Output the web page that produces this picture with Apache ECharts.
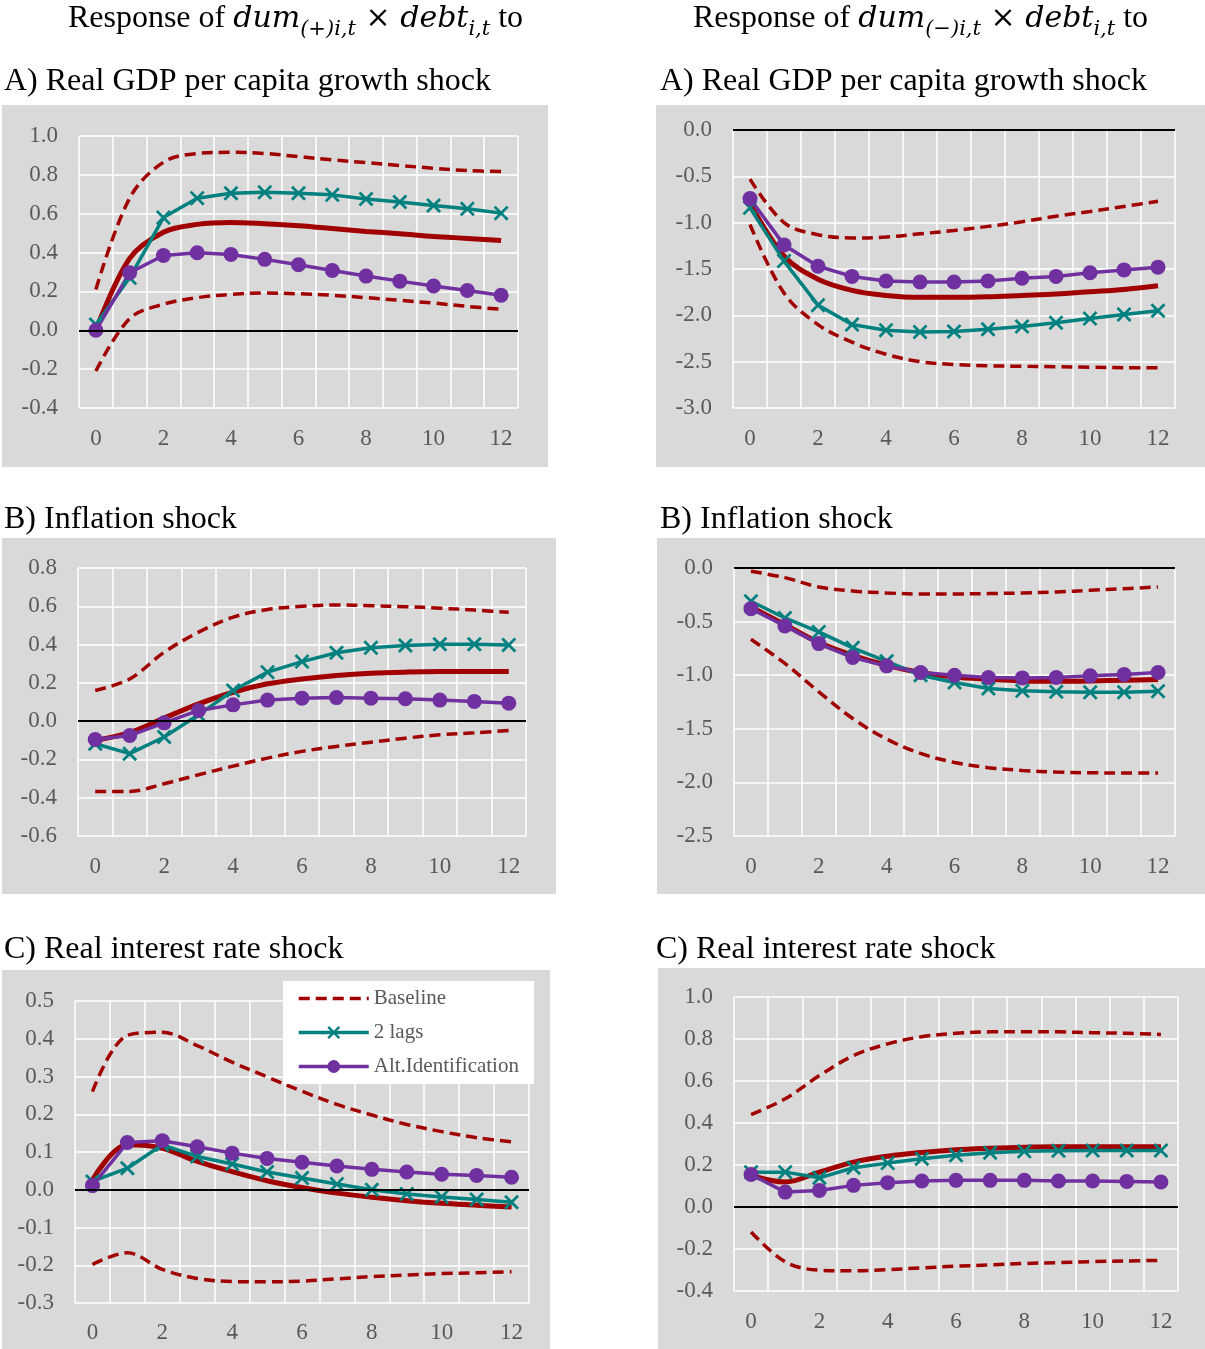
<!DOCTYPE html>
<html>
<head>
<meta charset="utf-8">
<script src="https://cdn.jsdelivr.net/npm/echarts@6/dist/echarts.min.js"></script>
<style>html,body{margin:0;padding:0;background:#fff;}#chart{width:1205px;height:1349px;}</style>
</head>
<body>
<div id="chart"></div>
<script>
// ---------- DATA ----------
const horizons = ['0','1','2','3','4','5','6','7','8','9','10','11','12'];
const seriesNames = ['Baseline', '2 lags', 'Alt.Identification'];

// Left column: dum(+) x debt
const gdpPosUpper = [0.21,0.68,0.865,0.91,0.916,0.91,0.894,0.877,0.863,0.848,0.834,0.822,0.817];
const gdpPosLower = [-0.21,0.06,0.134,0.168,0.185,0.192,0.188,0.18,0.168,0.154,0.14,0.123,0.108];
const gdpPosBase  = [0.0,0.37,0.505,0.545,0.555,0.548,0.538,0.524,0.509,0.497,0.483,0.473,0.462];
const gdpPosLags  = [0.03,0.27,0.58,0.68,0.705,0.71,0.705,0.697,0.676,0.66,0.642,0.625,0.603];
const gdpPosAlt   = [0.0,0.296,0.385,0.399,0.39,0.365,0.337,0.308,0.279,0.253,0.228,0.205,0.18];

const infPosUpper = [0.16,0.22,0.36,0.465,0.543,0.583,0.6,0.607,0.603,0.598,0.59,0.58,0.569];
const infPosLower = [-0.367,-0.367,-0.327,-0.28,-0.235,-0.193,-0.158,-0.132,-0.11,-0.089,-0.071,-0.061,-0.049];
const infPosBase  = [-0.1,-0.06,0.016,0.09,0.151,0.195,0.22,0.238,0.25,0.256,0.259,0.259,0.259];
const infPosLags  = [-0.118,-0.17,-0.083,0.033,0.16,0.256,0.311,0.357,0.383,0.395,0.402,0.402,0.398];
const infPosAlt   = [-0.096,-0.075,-0.009,0.056,0.085,0.11,0.12,0.123,0.12,0.117,0.11,0.103,0.094];

const rirPosUpper = [0.26,0.409,0.417,0.382,0.338,0.299,0.261,0.226,0.198,0.173,0.154,0.138,0.127];
const rirPosLower = [-0.198,-0.167,-0.211,-0.235,-0.243,-0.244,-0.242,-0.236,-0.23,-0.226,-0.222,-0.22,-0.217];
const rirPosBase  = [0.026,0.119,0.11,0.075,0.048,0.024,0.006,-0.009,-0.02,-0.029,-0.036,-0.041,-0.046];
const rirPosLags  = [0.022,0.057,0.119,0.088,0.068,0.047,0.031,0.015,0.0,-0.011,-0.019,-0.026,-0.033];
const rirPosAlt   = [0.011,0.125,0.13,0.114,0.097,0.083,0.073,0.063,0.054,0.047,0.041,0.038,0.033];

// Right column: dum(-) x debt
const gdpNegUpper = [-0.53,-1.0,-1.13,-1.165,-1.155,-1.12,-1.085,-1.04,-0.99,-0.93,-0.88,-0.825,-0.77];
const gdpNegLower = [-1.02,-1.76,-2.1,-2.29,-2.42,-2.5,-2.53,-2.545,-2.55,-2.555,-2.56,-2.565,-2.565];
const gdpNegBase  = [-0.79,-1.36,-1.61,-1.73,-1.785,-1.806,-1.806,-1.8,-1.785,-1.77,-1.745,-1.72,-1.68];
const gdpNegLags  = [-0.84,-1.415,-1.89,-2.1,-2.16,-2.18,-2.175,-2.15,-2.12,-2.08,-2.035,-1.99,-1.95];
const gdpNegAlt   = [-0.74,-1.24,-1.47,-1.58,-1.63,-1.64,-1.64,-1.63,-1.6,-1.58,-1.54,-1.51,-1.48];

const infNegUpper = [-0.03,-0.09,-0.177,-0.214,-0.233,-0.242,-0.242,-0.239,-0.233,-0.224,-0.208,-0.193,-0.177];
const infNegLower = [-0.665,-0.89,-1.155,-1.404,-1.596,-1.73,-1.814,-1.863,-1.888,-1.904,-1.91,-1.913,-1.913];
const infNegBase  = [-0.363,-0.528,-0.696,-0.814,-0.907,-0.975,-1.016,-1.037,-1.053,-1.056,-1.053,-1.047,-1.04];
const infNegLags  = [-0.31,-0.466,-0.596,-0.745,-0.87,-1.0,-1.068,-1.124,-1.146,-1.155,-1.16,-1.158,-1.149];
const infNegAlt   = [-0.379,-0.54,-0.705,-0.835,-0.913,-0.975,-1.0,-1.022,-1.025,-1.022,-1.006,-0.994,-0.975];

const rirNegUpper = [0.44,0.515,0.626,0.721,0.777,0.811,0.827,0.834,0.835,0.834,0.83,0.827,0.822];
const rirNegLower = [-0.119,-0.261,-0.301,-0.304,-0.298,-0.29,-0.282,-0.276,-0.269,-0.265,-0.26,-0.257,-0.254];
const rirNegBase  = [0.15,0.119,0.166,0.214,0.242,0.26,0.273,0.28,0.285,0.287,0.287,0.287,0.287];
const rirNegLags  = [0.166,0.166,0.139,0.187,0.209,0.23,0.246,0.258,0.265,0.268,0.269,0.269,0.269];
const rirNegAlt   = [0.155,0.071,0.079,0.103,0.116,0.124,0.127,0.127,0.127,0.124,0.124,0.122,0.119];

// Axis ranges (min, max, step)
const yRanges = [[-0.4,1.0,0.2],[-3.0,0.0,0.5],[-0.6,0.8,0.2],[-2.5,0.0,0.5],[-0.3,0.5,0.1],[-0.4,1.0,0.2]];
const titleLeft = 'Response of ';
const panelTitles = ['A) Real GDP per capita growth shock','A) Real GDP per capita growth shock','B) Inflation shock','B) Inflation shock','C) Real interest rate shock','C) Real interest rate shock'];

// ---------- LAYOUT ----------
const RED = '#A00000', TEAL = '#00807F', PURPLE = '#7030A0', GRAY = '#595959';
const panelsBg = [[2,105,546,362],[656,105,549,362],[2,538,554,356],[657,538,548,356],[2,970,548,379],[658,968,547,381]];
const grids = [[79,136,439,272],[733,130,442,278],[78,568,448,268],[734,568,441,268],[75,1001,454,302],[734,997,444,294]];
const labelMargins = [19,19,19,19,18,19];
const subPos = [[4,82],[660,82],[4,520],[660,520],[4,950],[656,950]];

const panelData = [
  [gdpPosUpper,gdpPosLower,gdpPosBase,gdpPosLags,gdpPosAlt],
  [gdpNegUpper,gdpNegLower,gdpNegBase,gdpNegLags,gdpNegAlt],
  [infPosUpper,infPosLower,infPosBase,infPosLags,infPosAlt],
  [infNegUpper,infNegLower,infNegBase,infNegLags,infNegAlt],
  [rirPosUpper,rirPosLower,rirPosBase,rirPosLags,rirPosAlt],
  [rirNegUpper,rirNegLower,rirNegBase,rirNegLags,rirNegAlt]
];

const XSYM = 'path://M1.3,0L5,3.7L8.7,0L10,1.3L6.3,5L10,8.7L8.7,10L5,6.3L1.3,10L0,8.7L3.7,5L0,1.3Z';
const SERIF = '"Liberation Serif", "Times New Roman", serif';

const fmt = v => (Math.abs(v) < 1e-9 ? '0.0' : v.toFixed(1));

const gridOpt = [], xAxes = [], yAxes = [], series = [];
grids.forEach((g, i) => {
  gridOpt.push({left: g[0], top: g[1], width: g[2], height: g[3], containLabel: false, show: false});
  xAxes.push({
    type: 'category', gridIndex: i, data: horizons, boundaryGap: true,
    axisLine: {show: false}, axisTick: {show: false, interval: 0},
    splitLine: {show: true, interval: 0, lineStyle: {color: '#ffffff', width: 1.5}},
    axisLabel: {interval: 1, color: GRAY, fontFamily: SERIF, fontSize: 23, margin: labelMargins[i]}
  });
  const r = yRanges[i];
  yAxes.push({
    type: 'value', gridIndex: i, min: r[0], max: r[1], interval: r[2],
    axisLine: {show: false}, axisTick: {show: false},
    splitLine: {show: true, lineStyle: {color: '#ffffff', width: 1.5}},
    axisLabel: {color: GRAY, fontFamily: SERIF, fontSize: 23, margin: 21, formatter: fmt}
  });
  const d = panelData[i];
  const common = {xAxisIndex: i, yAxisIndex: i, type: 'line', silent: true};
  series.push(Object.assign({}, common, {
    name: 'Baseline lower', data: d[1], smooth: 0.35, symbol: 'none',
    lineStyle: {color: RED, width: 3.5, type: [11, 6]}, itemStyle: {color: RED},
    markLine: {silent: true, symbol: 'none', label: {show: false},
      lineStyle: {color: '#000', width: 2, type: 'solid'}, data: [{yAxis: 0}]}
  }));
  series.push(Object.assign({}, common, {
    name: 'Baseline', data: d[0], smooth: 0.35, symbol: 'none',
    lineStyle: {color: RED, width: 3.5, type: [11, 6]}, itemStyle: {color: RED}
  }));
  series.push(Object.assign({}, common, {
    name: 'Baseline IRF', data: d[2], smooth: 0.35, symbol: 'none',
    lineStyle: {color: RED, width: 5}, itemStyle: {color: RED}
  }));
  series.push(Object.assign({}, common, {
    name: '2 lags', data: d[3], smooth: false, symbol: XSYM, symbolSize: 15,
    lineStyle: {color: TEAL, width: 3.5}, itemStyle: {color: TEAL}
  }));
  series.push(Object.assign({}, common, {
    name: 'Alt.Identification', data: d[4], smooth: false, symbol: 'circle', symbolSize: 15,
    lineStyle: {color: PURPLE, width: 3.5}, itemStyle: {color: PURPLE}
  }));
});

// graphic: panel backgrounds, titles
const graphics = [];
panelsBg.forEach(p => graphics.push({type: 'rect', z: -100, silent: true,
  shape: {x: p[0], y: p[1], width: p[2], height: p[3]}, style: {fill: '#D9D9D9'}}));
panelTitles.forEach((t, i) => graphics.push({type: 'text', silent: true, x: subPos[i][0], y: subPos[i][1],
  style: {text: t, font: '32px ' + SERIF, fill: '#000', textAlign: 'left', textVerticalAlign: 'middle'}}));

// math-style column titles
const cv = document.createElement('canvas').getContext('2d');
function addTitle(centerX, baseY, subSign) {
  const TXT = '32px ' + SERIF, MATH = 'italic 30px "DejaVu Serif"', SUB = 'italic 21px "DejaVu Serif"';
  const TIMES = '30px "DejaVu Serif"';
  const segs = [
    {t: titleLeft, f: TXT, s: 32, dy: 0},
    {t: 'dum', f: MATH, s: 30, dy: 0},
    {t: '(' + subSign + ')i,t', f: SUB, s: 21, dy: 7},
    {t: ' × ', f: TIMES, s: 30, dy: 0},
    {t: 'debt', f: MATH, s: 30, dy: 0},
    {t: 'i,t', f: SUB, s: 21, dy: 7},
    {t: ' to', f: TXT, s: 32, dy: 0}
  ];
  let total = 0;
  segs.forEach(s => { cv.font = s.f; s.w = cv.measureText(s.t).width; total += s.w; });
  let x = centerX - total / 2;
  segs.forEach(s => {
    graphics.push({type: 'text', silent: true, x: x, y: baseY + s.dy - 0.33 * s.s,
      style: {text: s.t, font: s.f, fill: '#000', textAlign: 'left', textVerticalAlign: 'middle'}});
    x += s.w;
  });
}
addTitle(295.5, 29, '+');
addTitle(920.5, 29, '−');

const chart = echarts.init(document.getElementById('chart'), null, {renderer: 'canvas'});
chart.setOption({
  animation: false,
  backgroundColor: '#ffffff',
  grid: gridOpt,
  xAxis: xAxes,
  yAxis: yAxes,
  legend: {
    data: [
      {name: seriesNames[0], itemStyle: {opacity: 0}},
      {name: seriesNames[1]},
      {name: seriesNames[2]}
    ],
    orient: 'vertical', left: 283, top: 981,
    backgroundColor: '#ffffff', padding: [7, 15, 7, 14], itemGap: 13,
    itemWidth: 70, itemHeight: 16, selectedMode: false,
    lineStyle: {width: 'inherit'},
    textStyle: {color: GRAY, fontFamily: SERIF, fontSize: 21}
  },
  graphic: {elements: graphics},
  series: series
});
</script>
</body>
</html>
